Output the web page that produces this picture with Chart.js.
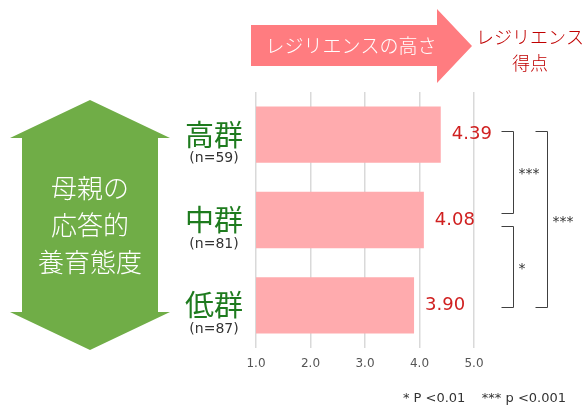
<!DOCTYPE html>
<html><head><meta charset="utf-8">
<script src="https://cdn.jsdelivr.net/npm/chart.js@4/dist/chart.umd.min.js"></script>
<style>html,body{margin:0;padding:0;background:#fff}#wrap{width:587px;height:410px;position:relative}</style>
</head><body><div id="wrap"><canvas id="c" width="587" height="410"></canvas></div>
<script>
const groups = ['高群', '中群', '低群'];
const sampleSizes = ['(n=59)', '(n=81)', '(n=87)'];
const scores = [4.39, 4.08, 3.90];
const valueLabels = ['4.39', '4.08', '3.90'];
const xTicks = [1, 2, 3, 4, 5];
const sideTitle = ['母親の', '応答的', '養育態度'];
const topArrowText = 'レジリエンスの高さ';
const scoreTitle = ['レジリエンス', '得点'];
const comparisons = [
  {from: 0, to: 1, mark: '***', level: 0},
  {from: 1, to: 2, mark: '*', level: 0},
  {from: 0, to: 2, mark: '***', level: 1}
];
const footnote = '* P <0.01    *** p <0.001';

const JP = '"Noto Sans CJK JP", "Noto Sans", sans-serif';
const NUM = '"DejaVu Sans", "Noto Sans", sans-serif';

const decor = {
  id: 'decor',
  afterDraw(chart) {
    const ctx = chart.ctx;
    const y = chart.scales.y, x = chart.scales.x;
    ctx.save();
    // left green double arrow
    ctx.fillStyle = '#70AD47';
    ctx.beginPath();
    ctx.moveTo(90, 100); ctx.lineTo(170, 138); ctx.lineTo(158, 138);
    ctx.lineTo(158, 312); ctx.lineTo(170, 312); ctx.lineTo(90, 350);
    ctx.lineTo(10, 312); ctx.lineTo(22, 312); ctx.lineTo(22, 138);
    ctx.lineTo(10, 138); ctx.closePath(); ctx.fill();
    ctx.fillStyle = '#ffffff';
    ctx.font = '300 26px ' + JP;
    ctx.textAlign = 'center'; ctx.textBaseline = 'middle';
    sideTitle.forEach((t, i) => ctx.fillText(t, 90, 188 + i * 37));

    // top pink arrow
    ctx.fillStyle = '#FF7C80';
    ctx.beginPath();
    ctx.moveTo(251, 25); ctx.lineTo(437, 25); ctx.lineTo(437, 9);
    ctx.lineTo(472, 46); ctx.lineTo(437, 83); ctx.lineTo(437, 66);
    ctx.lineTo(251, 66); ctx.closePath(); ctx.fill();
    ctx.fillStyle = '#ffffff';
    ctx.font = '300 19px ' + JP;
    ctx.fillText(topArrowText, 351, 46);

    ctx.fillStyle = '#C00000';
    ctx.font = '300 18px ' + JP;
    ctx.fillText(scoreTitle[0], 530, 37);
    ctx.fillText(scoreTitle[1], 530, 63);

    // group labels
    groups.forEach((g, i) => {
      const py = y.getPixelForValue(i);
      ctx.fillStyle = '#1E7B1E';
      ctx.font = '29px ' + JP;
      ctx.fillText(g, 214, py);
      ctx.fillStyle = '#333333';
      ctx.font = '14px ' + NUM;
      ctx.fillText(sampleSizes[i], 214, py + 24);
    });

    // value labels
    ctx.fillStyle = '#D02020';
    ctx.font = '18px ' + NUM;
    ctx.textAlign = 'left';
    scores.forEach((v, i) => {
      ctx.fillText(valueLabels[i], x.getPixelForValue(v) + 11, y.getPixelForValue(i));
    });

    // significance brackets
    ctx.strokeStyle = '#404040'; ctx.lineWidth = 1;
    ctx.fillStyle = '#333333'; ctx.font = '14px ' + NUM;
    comparisons.forEach(c => {
      const vx = c.level === 0 ? 513.5 : 547.5;
      const lx = vx - 12;
      const inner = c.level === 0;
      const y1 = y.getPixelForValue(c.from) + (inner && c.from === 1 ? 6 : -4);
      const y2 = y.getPixelForValue(c.to) + (inner && c.to === 1 ? -7 : 2);
      ctx.beginPath();
      ctx.moveTo(lx, Math.round(y1) + 0.5); ctx.lineTo(vx, Math.round(y1) + 0.5);
      ctx.lineTo(vx, Math.round(y2) + 0.5); ctx.lineTo(lx, Math.round(y2) + 0.5);
      ctx.stroke();
      ctx.textAlign = 'left';
      ctx.fillText(c.mark, vx + 5, (y1 + y2) / 2 + 3);
    });

    // footnote
    ctx.fillStyle = '#333333'; ctx.font = '13px ' + NUM;
    ctx.textAlign = 'right';
    ctx.fillText(footnote, 566, 399);
    ctx.restore();
  }
};

new Chart(document.getElementById('c'), {
  type: 'bar',
  data: {
    labels: groups,
    datasets: [{
      data: scores,
      backgroundColor: '#FFABAE',
      borderWidth: 0,
      barPercentage: 0.66,
      categoryPercentage: 1
    }]
  },
  options: {
    indexAxis: 'y',
    responsive: false,
    animation: false,
    layout: { padding: { left: 256, right: 113, top: 92, bottom: 0 } },
    plugins: { legend: { display: false }, tooltip: { enabled: false } },
    scales: {
      y: { display: false },
      x: {
        min: 1, max: 5,
        afterBuildTicks: s => { s.ticks = xTicks.map(v => ({ value: v })); },
        afterFit: s => { s.height = 62; },
        grid: { color: '#D9D9D9', lineWidth: 1.5, drawTicks: false },
        border: { display: false },
        ticks: {
          padding: 9,
          color: '#555555',
          font: { family: '"DejaVu Sans", "Noto Sans", sans-serif', size: 12 },
          callback: v => Number(v).toFixed(1)
        }
      }
    }
  },
  plugins: [decor]
});
</script></body></html>
